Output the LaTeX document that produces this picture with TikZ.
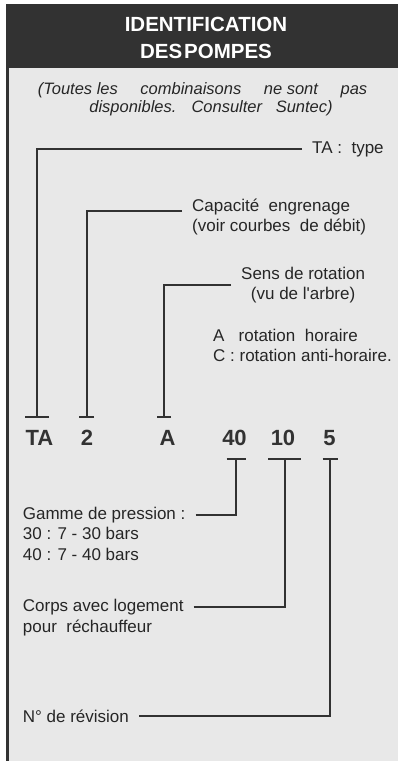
\documentclass[tikz,border=0pt]{standalone}
\usepackage{fontspec}
\setmainfont{Liberation Sans}
\usepackage{xcolor}
\usetikzlibrary{arrows.meta,positioning}

\definecolor{panelgray}{HTML}{E8E8E8}
\definecolor{headgray}{HTML}{323232}
\definecolor{inkgray}{HTML}{262626}

\begin{document}
\begin{tikzpicture}[
  x=1pt, y=-1pt,
  every node/.style={inner sep=0pt, text=inkgray},
  title/.style={font=\fontsize{20.5}{27}\selectfont\bfseries, text=white, align=center},
  remark/.style={font=\fontsize{16.5}{19}\selectfont\itshape, anchor=base},
  lbl/.style={font=\fontsize{17}{20.5}\selectfont, inner xsep=10pt},
  code/.style={font=\fontsize{22}{26}\selectfont\bfseries, text=headgray, anchor=base},
  lead/.style={draw=headgray, line width=2pt}
]

% panel and header band
\useasboundingbox (0,0) rectangle (398,761);
\fill[panelgray] (8,4) rectangle (398,761);
\fill[headgray] (8,4) rectangle (398,68);
\draw[headgray, line width=3pt] (7.5,4) -- (7.5,761);

% header texts
\node[title] (head) at (206,37.5) {IDENTIFICATION\\DES\hspace{2pt}POMPES};
\node[remark] (rem1) at (202.5,94) {(Toutes les\hspace{18pt} combinaisons\hspace{18pt} ne sont\hspace{18pt} pas};
\node[remark] (rem2) at (211,112.5) {disponibles.\hspace{9pt} Consulter\hspace{9pt} Suntec)};

% code of the pump
\node[code] (cTA) at (39.5,445) {TA};
\node[code] (cCap) at (87,445) {2};
\node[code] (cRot) at (167.5,445) {A};
\node[code] (cPres) at (234.5,445) {40};
\node[code] (cCorps) at (283,445) {10};
\node[code] (cRev) at (329.5,445) {5};

% tick points above and below the code
\coordinate (tTA) at (37,418);
\coordinate (tCap) at (86.5,418);
\coordinate (tRot) at (164,418);
\coordinate (tPres) at (236,458);
\coordinate (tCorps) at (284.5,458);
\coordinate (tRev) at (330,458);

% labels above the code
\node[lbl, anchor=west] (type) at (302,149) {TA :\ \ type};
\node[lbl, anchor=base west] (capa) at (182,211) {Capacité\ \ engrenage};
\node[lbl, anchor=base west] (capb) at (182,231) {(voir courbes\ \ de débit)};
\node[lbl, anchor=west, align=center] (sens) at (231,285) {Sens de rotation\\(vu de l\textquotesingle arbre)};
\node[lbl, anchor=base west] (rotA) at (203,341) {A\ \ \ rotation\ \ horaire};
\node[lbl, anchor=base west] (rotC) at (203,361) {C : rotation anti-horaire.};

% labels below the code
\node[lbl, anchor=west] (gamme) at (12.7,515) {Gamme de pression :};
\node[lbl, anchor=base west] (g30) at (12.7,539) {30 : 7 - 30 bars};
\node[lbl, anchor=base west] (g40) at (12.7,560) {40 : 7 - 40 bars};
\node[lbl, anchor=west] (corps) at (12.7,607) {Corps avec logement};
\node[lbl, anchor=base west] (corpsb) at (12.7,632) {pour\ \ réchauffeur};
\node[lbl, anchor=west] (rev) at (12.7,716) {N° de révision};

% leaders
\draw[lead, -{Bar[width=24pt]}] (type.west) -| (tTA);
\draw[lead, -{Bar[width=15pt]}] (capa.base west) -| (tCap);
\draw[lead, -{Bar[width=14pt]}] (sens.west) -| (tRot);
\draw[lead, -{Bar[width=19pt]}] (gamme.east) -| (tPres);
\draw[lead, -{Bar[width=33pt]}] (corps.east) -| (tCorps);
\draw[lead, -{Bar[width=15pt]}] (rev.east) -| (tRev);

\end{tikzpicture}
\end{document}
